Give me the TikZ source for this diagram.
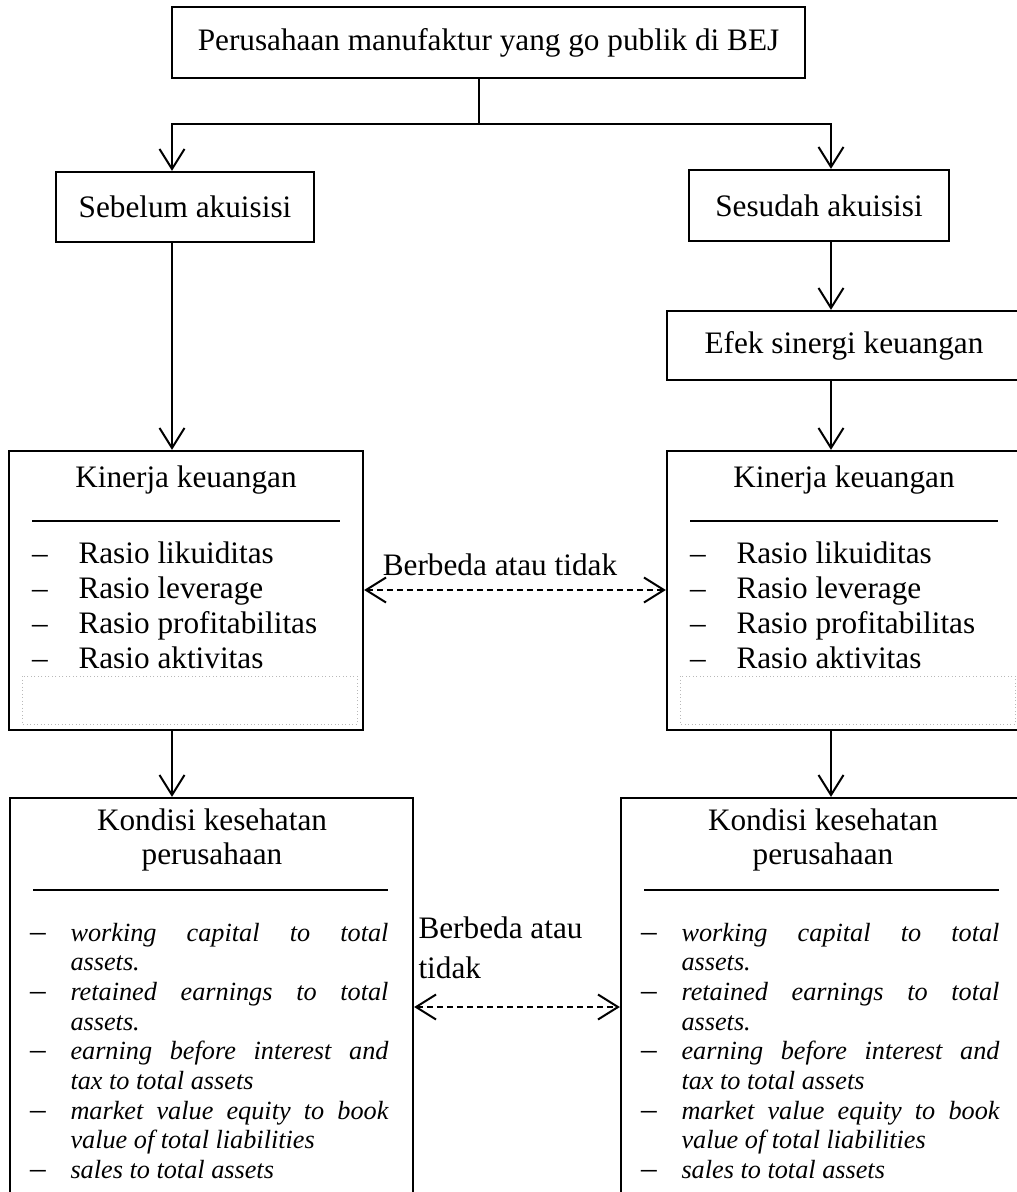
\documentclass[tikz,border=0pt]{standalone}
\usepackage{fontspec}
\setmainfont{Liberation Serif}
\usetikzlibrary{arrows.meta,positioning}
\tikzset{>={Straight Barb[length=8pt,width=10pt]}}
\tikzset{
  box/.style={draw,line width=0.9pt,inner sep=0pt},
  txt/.style={inner sep=0pt,font=\fontsize{12.5}{13.6}\selectfont},
  itm/.style={inner sep=0pt,font=\fontsize{10.5}{11.88}\selectfont\itshape,text width=127.2pt,align=justify},
  conn/.style={line width=0.8pt},
  diff/.style={line width=0.8pt,<->,dash pattern=on 2.4pt off 1.6pt},
  ghost/.style={gray!55,line width=0.4pt,densely dotted}
}
\hyphenpenalty=10000
\tolerance=10000

\begin{document}
\begin{tikzpicture}[x=0.4pt,y=-0.4pt]
  \useasboundingbox (0,0) rectangle (1017,1192);

  % top and the two branches
  \node[box,txt,minimum width=253.2pt,minimum height=28.4pt] (bej) at (488.5,42.5) {Perusahaan manufaktur yang go publik di BEJ};
  \node[box,txt,minimum width=103.2pt,minimum height=28pt] (sebelum) at (185,207) {Sebelum akuisisi};
  \node[box,txt,minimum width=104pt,minimum height=28.4pt] (sesudah) at (819,205.5) {Sesudah akuisisi};
  \node[box,txt,minimum width=141.6pt,minimum height=27.6pt] (efek) at (844,345.5) {Efek sinergi keuangan};

  % Kinerja keuangan, left and right
  \foreach \s/\dx in {L/0,R/658}{
    \node[box,minimum width=141.6pt,minimum height=111.6pt] (kin\s) at (186+\dx,590.5) {};
    \node[txt] (kinT\s) at (186+\dx,480) {Kinerja keuangan};
    \draw[line width=0.9pt] (32+\dx,521) -- (340+\dx,521);
    \foreach \r [count=\i] in {likuiditas,leverage,profitabilitas,aktivitas}{
      \node[txt,anchor=base] (kinD\s\i) at (40+\dx,528+35*\i) {--};
      \node[txt,anchor=base west] (kinI\s\i) at (78+\dx,528+35*\i) {Rasio \r};
    }
    \draw[ghost] (22+\dx,676) rectangle (357+\dx,724);
  }

  % Kondisi kesehatan perusahaan, left and right
  \foreach \s/\dx in {L/0,R/611}{
    \node[box,minimum width=161.2pt,minimum height=180.8pt] (kon\s) at (211.5+\dx,1024) {};
    \node[txt,align=center] (konT\s) at (212+\dx,840) {Kondisi kesehatan\\perusahaan};
    \draw[line width=0.9pt] (33+\dx,890) -- (388+\dx,890);
    \foreach \k in {0,...,4}
      \node[txt,anchor=base] (konD\s\k) at (38+\dx,941+59.4*\k) {--};
    \node[itm,anchor=base west] (konI\s) at (70+\dx,941) {working capital to total assets.\\
      retained earnings to total assets.\\
      earning before interest and tax to total assets\\
      market value equity to book value of total liabilities\\
      sales to total assets};
  }

  % connectors
  \coordinate (jM) at (479,124);
  \coordinate (jL) at (172,124);
  \coordinate (jR) at (831,124);
  \draw[conn] (bej.south -| jM) -- (jM);
  \draw[conn,->] (jM) -- (jL) -- (jL |- sebelum.north);
  \draw[conn,->] (jM) -- (jR) -- (jR |- sesudah.north);
  \draw[conn,->] (sebelum.south -| jL) -- (jL |- kinL.north);
  \draw[conn,->] (sesudah.south -| jR) -- (jR |- efek.north);
  \draw[conn,->] (efek.south -| jR) -- (jR |- kinR.north);
  \draw[conn,->] (kinL.south -| jL) -- (jL |- konL.north);
  \draw[conn,->] (kinR.south -| jR) -- (jR |- konR.north);

  % Berbeda atau tidak
  \coordinate (y1) at (0,590);
  \coordinate (y2) at (0,1007);
  \node[txt] (beda1) at (500,565) {Berbeda atau tidak};
  \draw[diff] (kinL.east |- y1) -- (kinR.west |- y1);
  \node[txt,align=left,anchor=base west,font=\fontsize{12.5}{16}\selectfont] (beda2) at (418,978) {Berbeda atau\\tidak};
  \draw[diff] (konL.east |- y2) -- (konR.west |- y2);
\end{tikzpicture}
\end{document}
